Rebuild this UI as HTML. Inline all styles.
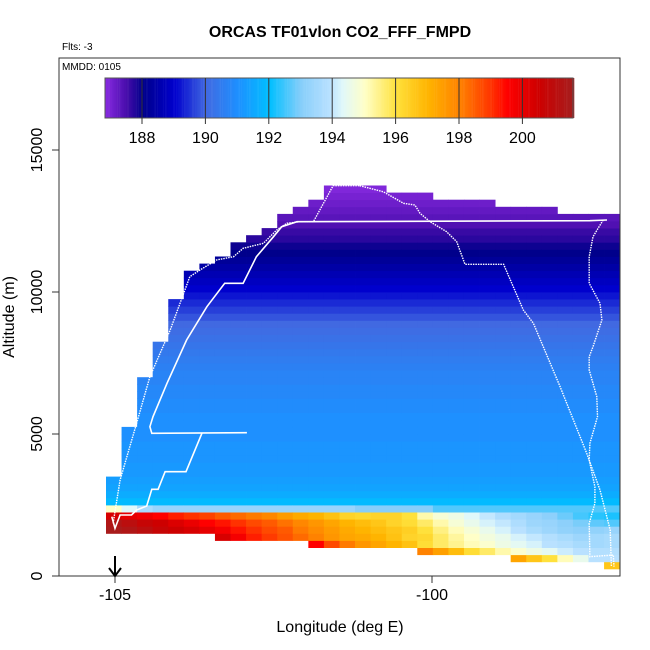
<!DOCTYPE html>
<html><head><meta charset="utf-8"><style>
html,body{margin:0;padding:0;background:#fff;}
svg{display:block;font-family:"Liberation Sans",Arial,sans-serif;}
</style></head><body>
<svg id="chart" width="650" height="650" viewBox="0 0 650 650">
<defs><clipPath id="plotclip"><rect x="59" y="58" width="561" height="518"/></clipPath></defs>
<text x="340" y="37" text-anchor="middle" font-size="16" font-weight="bold">ORCAS TF01vlon CO2_FFF_FMPD</text>
<text x="62" y="50" font-size="10">Flts: -3</text>
<g id="cells" clip-path="url(#plotclip)"></g>
<g id="tracks" clip-path="url(#plotclip)"></g>
<g id="cbar"></g>
<text x="62" y="70" font-size="10">MMDD: 0105</text>
<rect x="59" y="58" width="561" height="518" fill="none" stroke="#333" stroke-width="1"/>
<g id="axes"></g>
<text x="340" y="632" text-anchor="middle" font-size="16">Longitude (deg E)</text>
<text transform="translate(14,317) rotate(-90)" text-anchor="middle" font-size="16">Altitude (m)</text>
<g><line x1="115" y1="556" x2="115" y2="575" stroke="#000" stroke-width="2"/><polyline points="109,568 115,576 121,568" fill="none" stroke="#000" stroke-width="2"/></g>
</svg>
<script>
const xTicks = [-105, -100];
const yTicks = [0, 5000, 10000, 15000];
const cbTicks = [188, 190, 192, 194, 196, 198, 200];
const colLon0 = -105.142, colW = 0.2455, rowH = 250;
const colTop = [3500,5250,7000,8250,9750,10750,11000,11250,11750,12000,12250,12750,13000,13250,13750,13750,13750,13750,13500,13500,13500,13250,13250,13250,13250,13000,13000,13000,13000,12750,12750,12750,12750];
const colBottom = [1500,1500,1500,1500,1500,1500,1500,1250,1250,1250,1250,1250,1250,1000,1000,1000,1000,1000,1000,1000,750,750,750,750,750,750,500,500,500,500,500,500,250];
// values by 250 m row from 2500 m upward
const upperProfile = [191.9,191.6,191.4,191.3,191.2,191.2,191.1,191.1,191.1,191.0,191.0,191.0,191.0,190.9,190.9,190.8,190.8,190.7,190.7,190.6,190.5,190.4,190.3,190.2,190.1,190.0,189.8,189.6,189.4,189.2,189.0,188.8,188.6,188.4,188.2,188.0,187.9,187.7,187.6,187.4,187.3,187.2,187.1,187.0,186.9,186.9];
// lower rows (index = row, 0..9 for 0-2500 m), one value per column
const lowRows = [
[],
[0,0,0,0,0,0,0,0,0,0,0,0,0,0,0,0,0,0,0,0,0,0,0,0,0,0,0,0,0,0,0,0,196.6],
[0,0,0,0,0,0,0,0,0,0,0,0,0,0,0,0,0,0,0,0,0,0,0,0,0,0,197.3,196.6,196.0,195.1,194.5,193.9,193.9],
[0,0,0,0,0,0,0,0,0,0,0,0,0,0,0,0,0,0,0,0,198.0,197.4,196.8,196.1,195.7,195.2,194.9,194.6,194.4,194.1,193.9,193.8,193.8],
[0,0,0,0,0,0,0,0,0,0,0,0,0,199.5,198.7,198.1,197.6,197.3,197.0,196.7,196.1,195.7,195.4,195.1,194.9,194.6,194.4,194.2,193.9,193.8,193.6,193.5,193.6],
[0,0,0,0,0,0,0,200.3,199.7,199.2,198.9,198.6,198.3,198.0,197.6,197.3,197.2,197.0,196.7,196.3,196.2,195.7,195.3,195.0,194.7,194.5,194.2,194.0,193.8,193.6,193.4,193.5,193.6],
[201.5,201.3,201.0,200.7,200.5,200.3,200.0,199.7,199.3,199.0,198.7,198.5,198.1,197.8,197.5,197.2,197.0,196.8,196.6,196.4,196.0,195.5,195.1,194.8,194.5,194.2,193.9,193.6,193.4,193.2,193.1,193.2,193.3],
[201.3,201.0,200.7,200.5,200.2,199.9,199.5,199.3,199.0,198.7,198.5,198.2,197.9,197.6,197.3,197.0,196.8,196.6,196.3,196.1,195.7,195.2,194.8,194.5,194.2,194.0,193.7,193.4,193.3,193.1,192.9,192.7,192.6],
[200.3,200.0,199.8,199.5,199.2,199.0,198.8,198.5,198.3,198.1,197.9,197.5,197.2,197.0,196.7,196.3,196.2,196.3,196.3,196.0,195.2,194.8,194.6,194.3,194.0,193.7,193.5,193.3,193.1,192.8,192.5,192.3,192.2],
[195.0,194.3,193.6,193.3,193.3,193.3,193.3,193.3,193.3,193.3,193.3,193.3,193.3,193.3,193.3,193.3,193.0,193.0,193.0,193.0,193.0,192.6,192.6,192.6,192.6,192.6,192.6,192.6,192.6,192.6,192.6,192.6,192.6]
];
const trackLon = [
[-105.05,-105.00,-104.92,-104.74,-104.66,-104.50,-104.42,-104.32,-104.21,-103.88,-103.63],
[-102.92,-104.42,-104.45,-104.40,-104.18,-103.87,-103.55,-103.27,-102.98,-102.77,-102.50,-102.37,-102.13,-97.51,-97.24],
[-97.30,-97.46,-97.52,-97.52,-97.35,-97.32,-97.46,-97.52,-97.52,-97.40,-97.39,-97.51,-97.52,-97.43,-97.43,-97.52,-97.51,-97.14,-97.13],
[-101.14,-100.77,-100.45,-100.27,-100.19,-100.03,-99.77,-99.61,-99.48,-98.87,-98.56,-98.40,-97.98,-97.56,-97.35,-97.19,-97.17],
[-105.03,-104.92,-104.66,-104.45,-104.13,-103.82,-103.66,-103.40,-103.13,-102.98,-102.66,-102.45,-102.29,-102.08,-101.87,-101.56,-101.14]
];
const trackAlt = [
[2088,1680,2148,2148,2324,2465,3053,3053,3672,3672,5025],
[5045,5025,5257,5609,6785,8310,9482,10306,10306,11243,11947,12299,12475,12510,12535],
[12535,11947,11243,10306,9602,9014,8074,7722,7253,6313,5609,4672,4084,3144,2560,1856,680,739,327],
[13743,13531,13123,13063,12771,12475,12123,11771,10975,10975,9366,8898,6665,4320,3028,1620,327],
[1856,3380,5377,7017,8662,10538,10774,11127,11243,11538,11714,12183,12419,12475,12475,13743,13743]
];
const trackDash = [false,false,true,true,true];
const NS = "http://www.w3.org/2000/svg";
const X = lon => 115 + (lon + 105) * 63.4;
const Y = alt => 576 - alt * 0.0284;
const stops = [[186.8,[138,43,226]],[187.5,[70,12,170]],[188,[0,0,139]],[189,[0,0,205]],[190,[65,105,225]],[191,[30,144,255]],[192,[0,191,255]],[193,[135,206,250]],[193.9,[185,225,255]],[194.3,[224,248,250]],[195,[255,255,200]],[196,[255,225,60]],[197,[255,180,0]],[198,[255,130,0]],[199,[255,50,0]],[199.5,[255,0,0]],[200.5,[205,0,0]],[201.6,[165,30,30]]];
function cmap(v){
  if(v<=stops[0][0]) return 'rgb('+stops[0][1]+')';
  for(let i=1;i<stops.length;i++){
    if(v<=stops[i][0]){const a=stops[i-1],b=stops[i],t=(v-a[0])/(b[0]-a[0]);
      return 'rgb('+a[1].map((c,j)=>Math.round(c+(b[1][j]-c)*t)).join(',')+')';}
  }
  return 'rgb('+stops[stops.length-1][1]+')';
}
function mk(tag, attrs, parent){const e=document.createElementNS(NS,tag);for(const k in attrs)e.setAttribute(k,attrs[k]);parent.appendChild(e);return e;}
const cells=document.getElementById('cells');
for(let c=0;c<colTop.length;c++){
  const l=colLon0+c*colW, x0=X(l), x1=X(l+colW);
  for(let a=colBottom[c];a<colTop[c];a+=rowH){
    const r=Math.round(a/rowH);
    const v = r>=10 ? upperProfile[r-10] : lowRows[r][c];
    const el=mk('rect',{x:x0.toFixed(2),y:Y(a+rowH).toFixed(2),width:(x1-x0+0.4).toFixed(2),height:(Y(a)-Y(a+rowH)+0.4).toFixed(2),fill:cmap(v)},cells);
    
    
  }
}
const tr=document.getElementById('tracks');
trackLon.forEach((lons,i)=>{
  const pts=lons.map((l,j)=>X(l).toFixed(1)+','+Y(trackAlt[i][j]).toFixed(1)).join(' ');
  const el=mk('polyline',{points:pts,fill:'none',stroke:'#fff','stroke-width':trackDash[i]?1.4:1.6,'stroke-dasharray':trackDash[i]?'1.5,1':'none'},tr);
  
  
});
const cb=document.getElementById('cbar');
const cbX=v=>142+(v-188)*31.7;
for(let v=186.83; v<201.6; v+=0.05){
  const el=mk('rect',{x:cbX(v).toFixed(2),y:78,width:1.8,height:40,fill:cmap(v)},cb);
  
  
}
mk('rect',{x:105,y:78,width:468,height:40,fill:'none',stroke:'#555','stroke-width':1},cb);
cbTicks.forEach(t=>{
  const x=cbX(t);
  mk('line',{x1:x,y1:78,x2:x,y2:124,stroke:'#333','stroke-width':1},cb);
  const tx=mk('text',{x:x,y:143,'text-anchor':'middle','font-size':16},cb);
  tx.textContent=t;
  
  
});
const ax=document.getElementById('axes');
xTicks.forEach(t=>{
  const x=X(t);
  mk('line',{x1:x,y1:576,x2:x,y2:583,stroke:'#333'},ax);
  const tx=mk('text',{x:x,y:600,'text-anchor':'middle','font-size':16},ax);
  tx.textContent=t;
  
  
});
yTicks.forEach(t=>{
  const y=Y(t);
  mk('line',{x1:52,y1:y,x2:59,y2:y,stroke:'#333'},ax);
  const tx=mk('text',{transform:'translate(42,'+y+') rotate(-90)','text-anchor':'middle','font-size':16},ax);
  tx.textContent=t;
  
  
});
</script>
</body></html>
